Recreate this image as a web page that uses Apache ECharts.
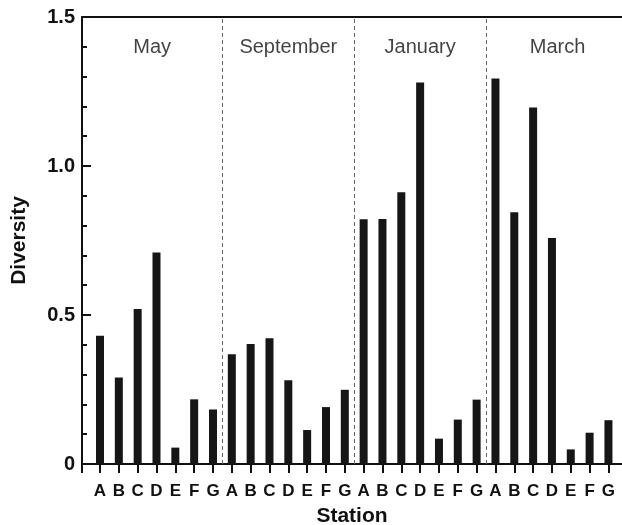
<!DOCTYPE html>
<html>
<head>
<meta charset="utf-8">
<script src="https://cdn.jsdelivr.net/npm/echarts@6/dist/echarts.min.js"></script>
<style>html,body{margin:0;padding:0;background:#fff}#c{width:622px;height:525px}</style>
</head>
<body>
<div id="c"></div>
<script>
const months = ['May', 'September', 'January', 'March'];
const stations = ['A', 'B', 'C', 'D', 'E', 'F', 'G'];
const mayValues = [0.43, 0.29, 0.52, 0.71, 0.055, 0.217, 0.183];
const septemberValues = [0.368, 0.403, 0.422, 0.281, 0.114, 0.191, 0.249];
const januaryValues = [0.821, 0.822, 0.912, 1.28, 0.085, 0.149, 0.216];
const marchValues = [1.294, 0.845, 1.196, 0.758, 0.049, 0.105, 0.147];
const yTickLabels = ['0', '0.5', '1.0', '1.5'];

const groups = [mayValues, septemberValues, januaryValues, marchValues];
const n = stations.length;
const barData = [];
groups.forEach((vals, g) => vals.forEach((v, i) => barData.push([g * n + i, v])));
const stationIdx = barData.map(d => d[0]);

const xMin = -0.956, xMax = 27.72, plotRightEdge = 28.1;
const separators = [];
for (let g = 1; g < groups.length; g++) separators.push(g * n - 0.5);
const bounds = [xMin].concat(separators, [plotRightEdge]);
const monthData = months.map((m, g) => ({ name: m, value: [(bounds[g] + bounds[g + 1]) / 2, 1.399] }));

const FONT = '"Liberation Sans", Arial, Helvetica, sans-serif';
const chart = echarts.init(document.getElementById('c'), null, { renderer: 'canvas' });
chart.setOption({
  animation: false,
  backgroundColor: '#fff',
  grid: { left: 82, right: 0, top: 17, bottom: 61, containLabel: false, outerBoundsMode: 'none' },
  xAxis: [{
    type: 'value', min: xMin, max: xMax,
    name: 'Station', nameLocation: 'middle', nameGap: 42,
    nameTextStyle: { fontFamily: FONT, fontWeight: 'bold', fontSize: 21, color: '#111' },
    axisLine: { show: true, onZero: false, lineStyle: { color: '#111', width: 2 } },
    axisTick: { show: true, inside: false, length: 9, lineStyle: { color: '#111', width: 2 }, customValues: [xMin].concat(stationIdx) },
    axisLabel: { show: true, customValues: stationIdx, margin: 19, fontFamily: FONT, fontWeight: 'bold', fontSize: 17, color: '#111',
      formatter: v => stations[Math.round(v) % n] },
    splitLine: { show: false }
  }, {
    type: 'value', position: 'top', min: xMin, max: xMax,
    axisLine: { show: true, onZero: false, lineStyle: { color: '#111', width: 2 } },
    axisTick: { show: false }, axisLabel: { show: false }, splitLine: { show: false }
  }],
  yAxis: {
    type: 'value', min: 0, max: 1.5, interval: 0.5,
    name: 'Diversity', nameLocation: 'middle', nameGap: 52, nameRotate: 90,
    nameTextStyle: { fontFamily: FONT, fontWeight: 'bold', fontSize: 21, color: '#111' },
    axisLine: { show: true, onZero: false, lineStyle: { color: '#111', width: 2 } },
    axisTick: { show: true, inside: true, length: 9, lineStyle: { color: '#111', width: 2 } },
    minorTick: { show: true, splitNumber: 5, length: 5, lineStyle: { color: '#111', width: 2 } },
    axisLabel: { margin: 7, fontFamily: FONT, fontWeight: 'bold', fontSize: 20, color: '#111',
      formatter: v => yTickLabels[Math.round(v / 0.5)] },
    splitLine: { show: false }, minorSplitLine: { show: false }
  },
  series: [{
    type: 'bar', data: barData, barWidth: 8,
    itemStyle: { color: '#161616' },
    markLine: {
      silent: true, symbol: 'none', label: { show: false },
      lineStyle: { color: '#666', width: 1, type: [4, 3] },
      data: separators.map(s => ({ xAxis: s }))
    }
  }, {
    type: 'scatter', data: monthData, symbolSize: 0, silent: true,
    label: { show: true, position: 'inside', formatter: p => p.name,
      fontFamily: FONT, fontSize: 20, color: '#111' }
  }]
});
</script>
</body>
</html>
